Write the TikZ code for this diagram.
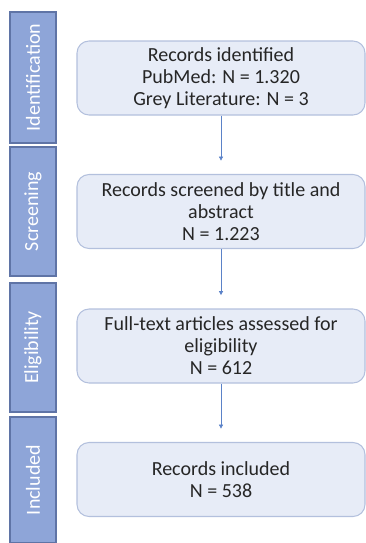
\documentclass[tikz,border=0pt]{standalone}
\usepackage{fontspec}
\setmainfont{Carlito}
\usetikzlibrary{arrows.meta}
\definecolor{phasefill}{HTML}{8EA5D8}
\definecolor{phaseline}{HTML}{5F74A6}
\definecolor{boxfill}{HTML}{E7ECF7}
\definecolor{boxline}{HTML}{B3C0DD}
\definecolor{flowline}{HTML}{5B82C8}
\begin{document}
\begin{tikzpicture}[
    x=0.75pt, y=-0.75pt,
    phase/.style={rectangle, draw=phaseline, fill=phasefill, line width=1pt,
                  minimum height=34.5pt, rotate=90, text=white,
                  font=\fontsize{15}{17}\selectfont},
    stage/.style={rectangle, rounded corners=9pt, draw=boxline, fill=boxfill,
                  line width=0.8pt, minimum width=216pt, minimum height=55.5pt,
                  align=center, text=black!85, font=\fontsize{15}{16.5}\selectfont},
    flow/.style={-{Triangle[length=3pt, width=3pt]}, line width=0.5pt,
                 color=flowline, shorten >=10pt},
]
\useasboundingbox (0, 0) rectangle (366, 543);

% phase bars on the left
\node[phase, minimum width=98.25pt] (identbar) at (33, 77.5) {Identification};
\node[phase, minimum width=96.75pt] (screenbar) at (33, 211.5) {Screening};
\node[phase, minimum width=96.75pt] (eligbar) at (33, 347.5) {Eligibility};
\node[phase, minimum width=94.5pt] (inclbar) at (33, 480) {Included};

% flow boxes
\node[stage] (identified) at (221, 78) {Records identified\\PubMed: N = 1.320\\Grey Literature: N = 3};
\node[stage] (screened) at (221, 211.5) {Records screened by title and\\abstract\\N = 1.223};
\node[stage] (assessed) at (221, 346) {Full-text articles assessed for\\eligibility\\N = 612};
\node[stage] (included) at (221, 479.5) {Records included\\N = 538};

% arrows between stages
\draw[flow] (identified) -- (screened);
\draw[flow] (screened) -- (assessed);
\draw[flow] (assessed) -- (included);

\end{tikzpicture}
\end{document}
